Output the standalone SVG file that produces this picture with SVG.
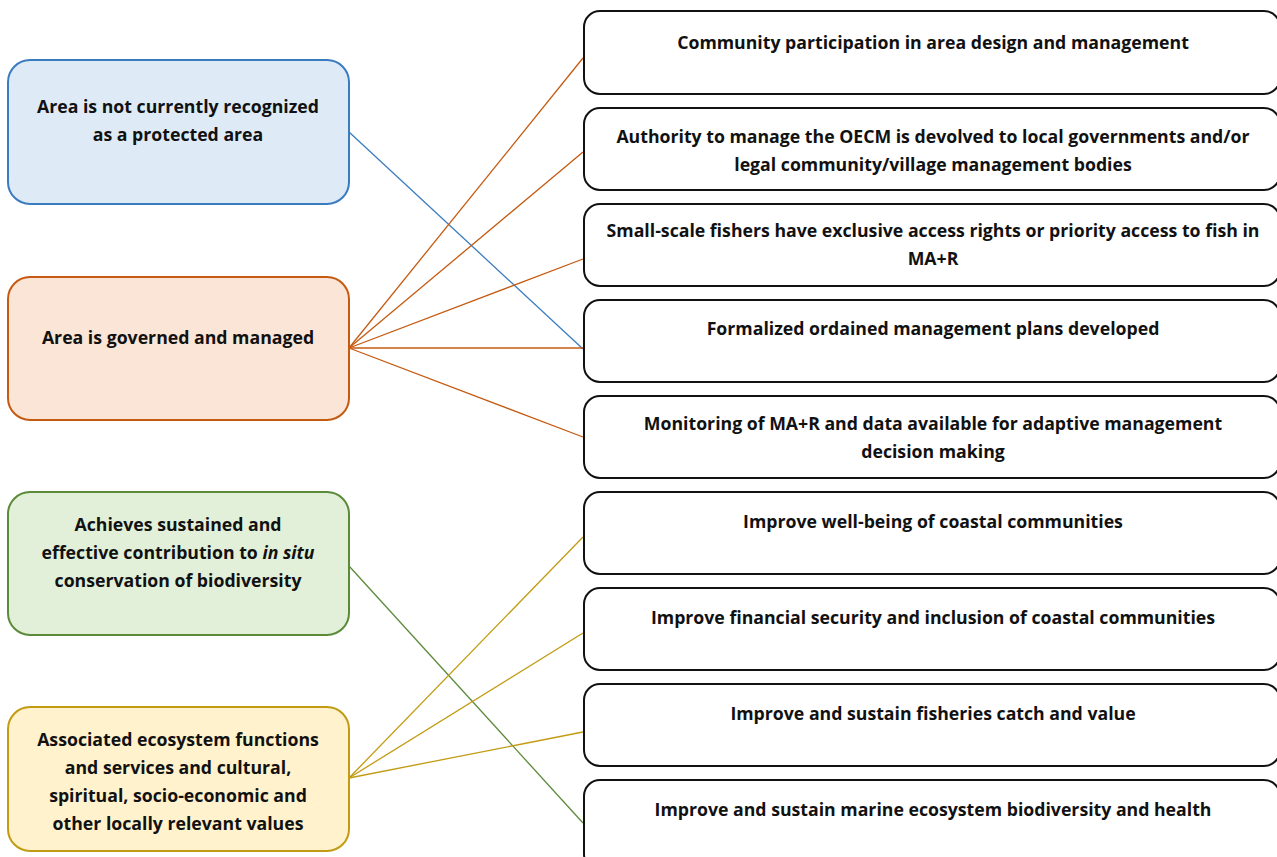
<svg xmlns="http://www.w3.org/2000/svg" width="1277" height="857" viewBox="0 0 1277 857">
  <style>
    .lbl { font-family: "Open Sans", "Liberation Sans", sans-serif; font-weight: 700; font-size: 17.7px; fill: #111; text-anchor: middle; }
    .out { fill: #ffffff; stroke: #111; stroke-width: 2; }
    .blue { fill: #deebf7; stroke: #3a7cc0; stroke-width: 2; }
    .orange { fill: #fbe5d6; stroke: #c55a11; stroke-width: 2; }
    .green { fill: #e2f0d9; stroke: #5b8a38; stroke-width: 2; }
    .yellow { fill: #fff2cc; stroke: #c29b12; stroke-width: 2; }
    .c-blue { stroke: #3a7cc0; stroke-width: 1.3; fill: none; }
    .c-orange { stroke: #c55a11; stroke-width: 1.3; fill: none; }
    .c-green { stroke: #5b8a38; stroke-width: 1.3; fill: none; }
    .c-yellow { stroke: #c29b12; stroke-width: 1.3; fill: none; }
  </style>
  <rect width="1277" height="857" fill="#ffffff"/>

  <!-- connectors -->
  <g id="connectors">
    <line class="c-blue" x1="349" y1="132" x2="583" y2="349"/>
    <line class="c-orange" x1="349" y1="348" x2="583" y2="58"/>
    <line class="c-orange" x1="349" y1="348" x2="583" y2="152"/>
    <line class="c-orange" x1="349" y1="348" x2="583" y2="259"/>
    <line class="c-orange" x1="349" y1="348" x2="583" y2="348"/>
    <line class="c-orange" x1="349" y1="348" x2="583" y2="437"/>
    <line class="c-green" x1="349" y1="566" x2="583" y2="823"/>
    <line class="c-yellow" x1="349" y1="778" x2="583" y2="537"/>
    <line class="c-yellow" x1="349" y1="778" x2="583" y2="633"/>
    <line class="c-yellow" x1="349" y1="778" x2="583" y2="732"/>
  </g>

  <!-- left-hand criteria -->
  <g id="crit-recognized">
    <rect class="blue" x="8" y="60" width="341" height="144" rx="22"/>
    <text class="lbl" x="178" y="113">Area is not currently recognized</text>
    <text class="lbl" x="178" y="141">as a protected area</text>
  </g>
  <g id="crit-governed">
    <rect class="orange" x="8" y="277" width="341" height="143" rx="22"/>
    <text class="lbl" x="178" y="344">Area is governed and managed</text>
  </g>
  <g id="crit-conservation">
    <rect class="green" x="8" y="492" width="341" height="143" rx="22"/>
    <text class="lbl" x="178" y="531">Achieves sustained and</text>
    <text class="lbl" x="178" y="559">effective contribution to <tspan font-style="italic">in situ</tspan></text>
    <text class="lbl" x="178" y="587">conservation of biodiversity</text>
  </g>
  <g id="crit-values">
    <rect class="yellow" x="8" y="707" width="341" height="144" rx="22"/>
    <text class="lbl" x="178" y="746">Associated ecosystem functions</text>
    <text class="lbl" x="178" y="774">and services and cultural,</text>
    <text class="lbl" x="178" y="802">spiritual, socio-economic and</text>
    <text class="lbl" x="178" y="830">other locally relevant values</text>
  </g>

  <!-- right-hand outcomes -->
  <g id="out-participation">
    <rect class="out" x="584" y="11" width="696" height="83" rx="16"/>
    <text class="lbl" x="933" y="49">Community participation in area design and management</text>
  </g>
  <g id="out-authority">
    <rect class="out" x="584" y="108" width="696" height="82" rx="16"/>
    <text class="lbl" x="933" y="143">Authority to manage the OECM is devolved to local governments and/or</text>
    <text class="lbl" x="933" y="171">legal community/village management bodies</text>
  </g>
  <g id="out-access">
    <rect class="out" x="584" y="204" width="696" height="82" rx="16"/>
    <text class="lbl" x="933" y="237">Small-scale fishers have exclusive access rights or priority access to fish in</text>
    <text class="lbl" x="933" y="265">MA+R</text>
  </g>
  <g id="out-plans">
    <rect class="out" x="584" y="300" width="696" height="82" rx="16"/>
    <text class="lbl" x="933" y="335">Formalized ordained management plans developed</text>
  </g>
  <g id="out-monitoring">
    <rect class="out" x="584" y="396" width="696" height="82" rx="16"/>
    <text class="lbl" x="933" y="430">Monitoring of MA+R and data available for adaptive management</text>
    <text class="lbl" x="933" y="458">decision making</text>
  </g>
  <g id="out-wellbeing">
    <rect class="out" x="584" y="492" width="696" height="82" rx="16"/>
    <text class="lbl" x="933" y="528">Improve well-being of coastal communities</text>
  </g>
  <g id="out-financial">
    <rect class="out" x="584" y="588" width="696" height="82" rx="16"/>
    <text class="lbl" x="933" y="624">Improve financial security and inclusion of coastal communities</text>
  </g>
  <g id="out-fisheries">
    <rect class="out" x="584" y="684" width="696" height="82" rx="16"/>
    <text class="lbl" x="933" y="720">Improve and sustain fisheries catch and value</text>
  </g>
  <g id="out-biodiversity">
    <rect class="out" x="584" y="780" width="696" height="90" rx="16"/>
    <text class="lbl" x="933" y="816">Improve and sustain marine ecosystem biodiversity and health</text>
  </g>
</svg>
